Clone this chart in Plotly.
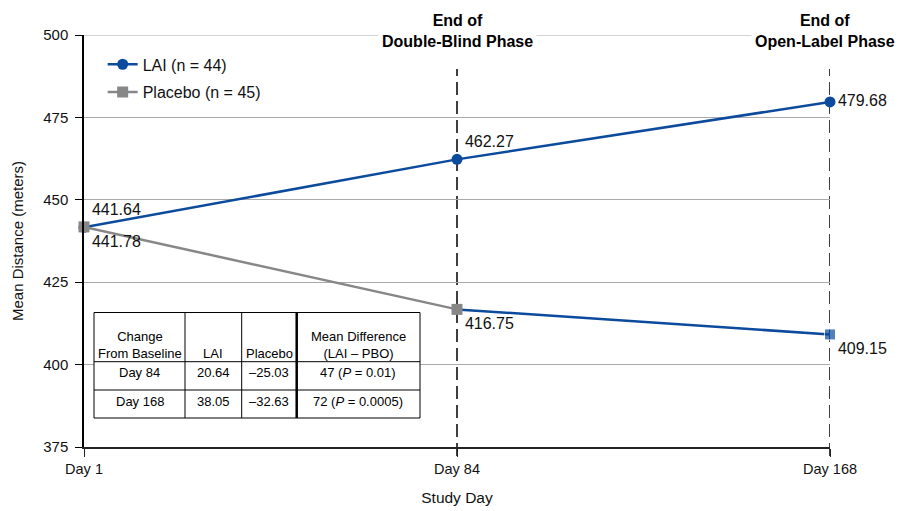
import plotly.graph_objects as go

# ---- data ----
days = ["Day 1", "Day 84", "Day 168"]
lai_values = [441.64, 462.27, 479.68]
placebo_values = [441.78, 416.75, 409.15]
lai_name = "LAI (n = 44)"
placebo_name = "Placebo (n = 45)"
phase_labels = ["End of<br>Double-Blind Phase", "End of<br>Open-Label Phase"]
y_ticks = [375, 400, 425, 450, 475, 500]

table_header = ["Change<br>From Baseline", "LAI", "Placebo", "Mean Difference<br>(LAI \u2013 PBO)"]
table_rows = [
    ["Day 84", "20.64", "\u201325.03", "47 (<i>P</i> = 0.01)"],
    ["Day 168", "38.05", "\u201332.63", "72 (<i>P</i> = 0.0005)"],
]

BLUE = "#0b4a9c"
GRAY = "#878787"
FONT = "Arial, Liberation Sans, Helvetica, sans-serif"

# plot area in pixels
L, R, T, B = 84, 830, 35, 447
def px(x):
    return (x - L) / (R - L)
def py(y):
    return (B - y) / (B - T)

fig = go.Figure()

fig.add_trace(go.Scatter(
    x=days, y=lai_values, name=lai_name, mode="lines+markers+text",
    line=dict(color=BLUE, width=2.5),
    marker=dict(symbol="circle", size=11, color=BLUE),
    text=[f"{v:.2f}" for v in lai_values],
    textposition=["top right", "top right", "middle right"],
    textfont=dict(size=16, color="#111"),
    cliponaxis=False, legendgroup="lai",
))

# open-label segment of placebo group (switched to LAI)
fig.add_trace(go.Scatter(
    x=days[1:], y=placebo_values[1:], mode="lines+markers+text",
    line=dict(color=BLUE, width=2.5),
    marker=dict(symbol="square", size=[0, 11], color=BLUE),
    text=["", f"{placebo_values[2]:.2f}"],
    textposition="bottom right",
    textfont=dict(size=16, color="#111"),
    showlegend=False, cliponaxis=False, hoverinfo="skip", legendgroup="ol",
))

fig.add_trace(go.Scatter(
    x=days[:2], y=placebo_values[:2], name=placebo_name, mode="lines+markers+text",
    line=dict(color=GRAY, width=2.5),
    marker=dict(symbol="square", size=11, color=GRAY),
    text=[f"{v:.2f}" for v in placebo_values[:2]],
    textposition="bottom right",
    textfont=dict(size=16, color="#111"),
    cliponaxis=False, legendgroup="pbo",
))

shapes = []
# top gridline at 500
shapes.append(dict(type="line", xref="paper", yref="y", x0=0, x1=1, y0=y_ticks[-1], y1=y_ticks[-1],
                   line=dict(color="#aaaaaa", width=1.2), layer="below"))
# dashed phase lines
for d in days[1:]:
    shapes.append(dict(type="line", xref="x", yref="paper", x0=d, x1=d,
                       y0=py(456), y1=py(69), line=dict(color="black", width=1.5, dash="13px,6px"),
                       layer="below"))

# table
tx = [94, 185, 241.7, 296.7, 420]
ty = [312.5, 361.7, 390, 418]
shapes.append(dict(type="rect", xref="paper", yref="paper", x0=px(tx[0]), x1=px(tx[-1]),
                   y0=py(ty[-1]), y1=py(ty[0]), fillcolor="white",
                   line=dict(color="black", width=1), layer="above"))
for i, xv in enumerate(tx[1:-1]):
    shapes.append(dict(type="line", xref="paper", yref="paper", x0=px(xv), x1=px(xv),
                       y0=py(ty[-1]), y1=py(ty[0]),
                       line=dict(color="black", width=2.5 if i == 2 else 1), layer="above"))
for yv in ty[1:-1]:
    shapes.append(dict(type="line", xref="paper", yref="paper", x0=px(tx[0]), x1=px(tx[-1]),
                       y0=py(yv), y1=py(yv), line=dict(color="black", width=1), layer="above"))

annotations = []
for d, lab, xs in zip(days[1:], phase_labels, [0, -5]):
    annotations.append(dict(x=d, xref="x", y=py(31), yref="paper", text=f"<b>{lab}</b>",
                            showarrow=False, font=dict(size=16, color="black", family=FONT),
                            bgcolor="white", borderpad=3, xanchor="center", yanchor="middle",
                            xshift=xs))

col_centers = [(tx[i] + tx[i + 1]) / 2 for i in range(4)]
header_y = [345, 353, 353, 345]
for c, h, yy in zip(col_centers, table_header, header_y):
    annotations.append(dict(x=px(c), y=py(yy), xref="paper", yref="paper", text=h,
                            showarrow=False, font=dict(size=13, color="black", family=FONT),
                            xanchor="center", yanchor="middle"))
row_y = [372, 401]
for row, yy in zip(table_rows, row_y):
    for c, t in zip(col_centers, row):
        annotations.append(dict(x=px(c), y=py(yy), xref="paper", yref="paper", text=t,
                                showarrow=False, font=dict(size=13, color="black", family=FONT),
                                xanchor="center", yanchor="middle"))

fig.update_layout(
    width=900, height=511,
    margin=dict(l=L, r=900 - R, t=T, b=511 - B, autoexpand=False),
    paper_bgcolor="white", plot_bgcolor="white",
    font=dict(family=FONT, size=14, color="#111"),
    shapes=shapes, annotations=annotations,
    legend=dict(x=0.025, y=0.97, xanchor="left", yanchor="top",
                bgcolor="rgba(0,0,0,0)", font=dict(size=16), tracegroupgap=4,
                itemwidth=30),
    showlegend=True,
)
fig.update_xaxes(
    type="category", categoryorder="array", categoryarray=days, range=[0, 2],
    showgrid=False, showline=True, linecolor="#222", linewidth=2,
    ticks="outside", ticklen=8, tickcolor="#222", tickfont=dict(size=14.5),
    title=dict(text="Study Day", font=dict(size=15.5), standoff=16),
    zeroline=False, automargin=False,
)
fig.update_yaxes(
    range=[375, 500], tickvals=y_ticks, showgrid=True, gridcolor="#aaaaaa", gridwidth=1.2,
    showline=True, linecolor="black", linewidth=1.5,
    ticks="outside", ticklen=7, tickcolor="black", tickfont=dict(size=15),
    ticklabelstandoff=4,
    title=dict(text="Mean Distance (meters)", font=dict(size=15), standoff=16),
    zeroline=False, automargin=False,
)

fig.write_html("out.html", post_script="document.body.style.margin='0px';",
               config={"displayModeBar": False})
